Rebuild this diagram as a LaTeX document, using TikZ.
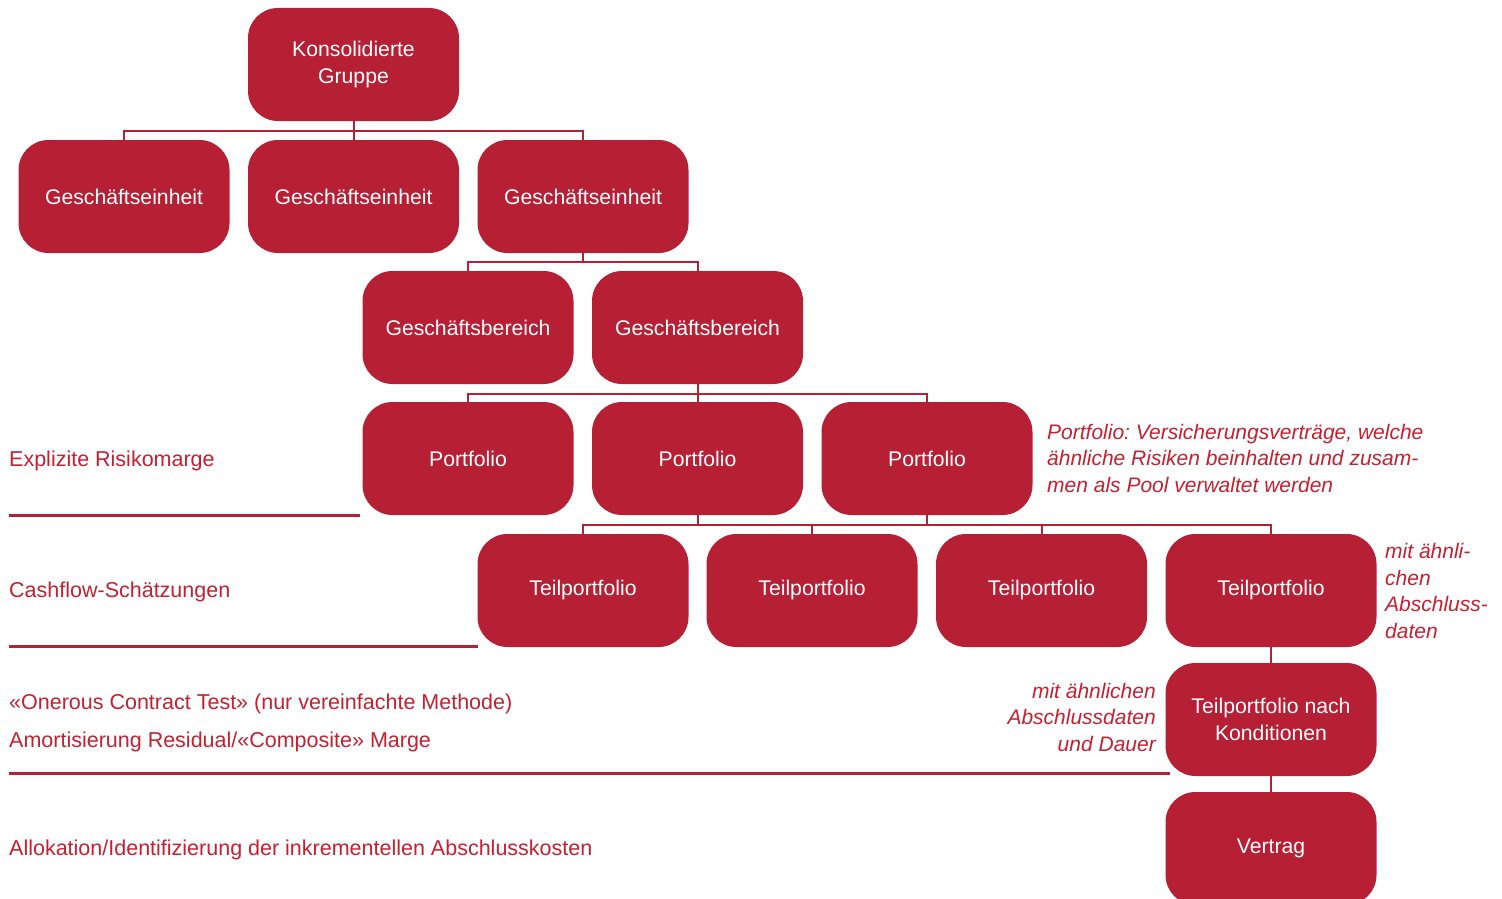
\documentclass[tikz,border=0pt]{standalone}
\usepackage{fontspec}
\setmainfont{Liberation Sans}
\frenchspacing
\definecolor{boxred}{RGB}{183,31,52}
\definecolor{textred}{RGB}{196,32,48}
\begin{document}
\begin{tikzpicture}[x=1pt,y=-1pt,
  orgbox/.style={rectangle, rounded corners=30pt, fill=boxred, draw=none,
    minimum width=211pt, minimum height=113pt, inner sep=0pt, text=white,
    align=center, font=\fontsize{21.2}{27}\selectfont},
  conn/.style={draw=boxred, line width=2pt},
  sep/.style={draw=boxred, line width=2.2pt},
  lbl/.style={anchor=west, inner sep=0pt, text=textred, font=\fontsize{21.5}{26.5}\selectfont},
  note/.style={inner sep=0pt, text=textred, font=\fontsize{21}{26.5}\selectfont\itshape}
]
\useasboundingbox (0,0) rectangle (1502,899);

% boxes
\node[orgbox] (k)  at (353.5,64.5) {Konsolidierte\\Gruppe};
\node[orgbox] (g1) at (124,196.5) {Geschäftseinheit};
\node[orgbox] (g2) at (353.5,196.5) {Geschäftseinheit};
\node[orgbox] (g3) at (583,196.5) {Geschäftseinheit};
\node[orgbox] (b1) at (468,327.5) {Geschäftsbereich};
\node[orgbox] (b2) at (697.5,327.5) {Geschäftsbereich};
\node[orgbox] (p1) at (468,458.5) {Portfolio};
\node[orgbox] (p2) at (697.5,458.5) {Portfolio};
\node[orgbox] (p3) at (927,458.5) {Portfolio};
\node[orgbox] (t1) at (583,590.5) {Teilportfolio};
\node[orgbox] (t2) at (812,590.5) {Teilportfolio};
\node[orgbox] (t3) at (1041.5,590.5) {Teilportfolio};
\node[orgbox] (t4) at (1271,590.5) {Teilportfolio};
\node[orgbox] (tk) at (1271,719.5) {Teilportfolio nach\\Konditionen};
\node[orgbox] (v)  at (1271,848.5) {Vertrag};

% bar levels
\coordinate (bar1) at (0,130.5);
\coordinate (bar2) at (0,262);
\coordinate (bar3) at (0,393.5);
\coordinate (bar4) at (0,525);

% connectors
\draw[conn] (k.south) -- (k.south |- bar1);
\draw[conn] (g1.north) |- (g3.north |- bar1) -- (g3.north);
\draw[conn] (g2.north) -- (g2.north |- bar1);

\draw[conn] (g3.south) -- (g3.south |- bar2);
\draw[conn] (b1.north) |- (b2.north |- bar2) -- (b2.north);

\draw[conn] (b2.south) -- (b2.south |- bar3);
\draw[conn] (p1.north) |- (p3.north |- bar3) -- (p3.north);
\draw[conn] (p2.north) -- (p2.north |- bar3);

\draw[conn] (p2.south) -- (p2.south |- bar4);
\draw[conn] (p3.south) -- (p3.south |- bar4);
\draw[conn] (t1.north) |- (t4.north |- bar4) -- (t4.north);
\draw[conn] (t2.north) -- (t2.north |- bar4);
\draw[conn] (t3.north) -- (t3.north |- bar4);

\draw[conn] (t4.south) -- (tk.north);
\draw[conn] (tk.south) -- (v.north);

% separators
\draw[sep] (9,515.5) -- (360,515.5);
\draw[sep] (9,646.5) -- (478,646.5);
\draw[sep] (9,773.5) -- (1170,773.5);

% left labels
\node[lbl] (l1) at (9,461) {Explizite Risikomarge};
\node[lbl] (l2) at (9,592) {Cashflow-Schätzungen};
\node[lbl] (l3) at (9,704) {«Onerous Contract Test» (nur vereinfachte Methode)};
\node[lbl] (l4) at (9,742) {Amortisierung Residual/«Composite» Marge};
\node[lbl] (l5) at (9,850) {Allokation/Identifizierung der inkrementellen Abschlusskosten};

% notes
\node[note, anchor=west, align=left] (n1) at (1047,458) {Portfolio: Versicherungsverträge, welche\\ähnliche Risiken beinhalten und zusam-\\men als Pool verwaltet werden};
\node[note, anchor=west, align=left] (n2) at (1385,591) {mit ähnli-\\chen\\Abschluss-\\daten};
\node[note, anchor=east, align=right] (n3) at (1156,717) {mit ähnlichen\\Abschlussdaten\\und Dauer};
\end{tikzpicture}
\end{document}
